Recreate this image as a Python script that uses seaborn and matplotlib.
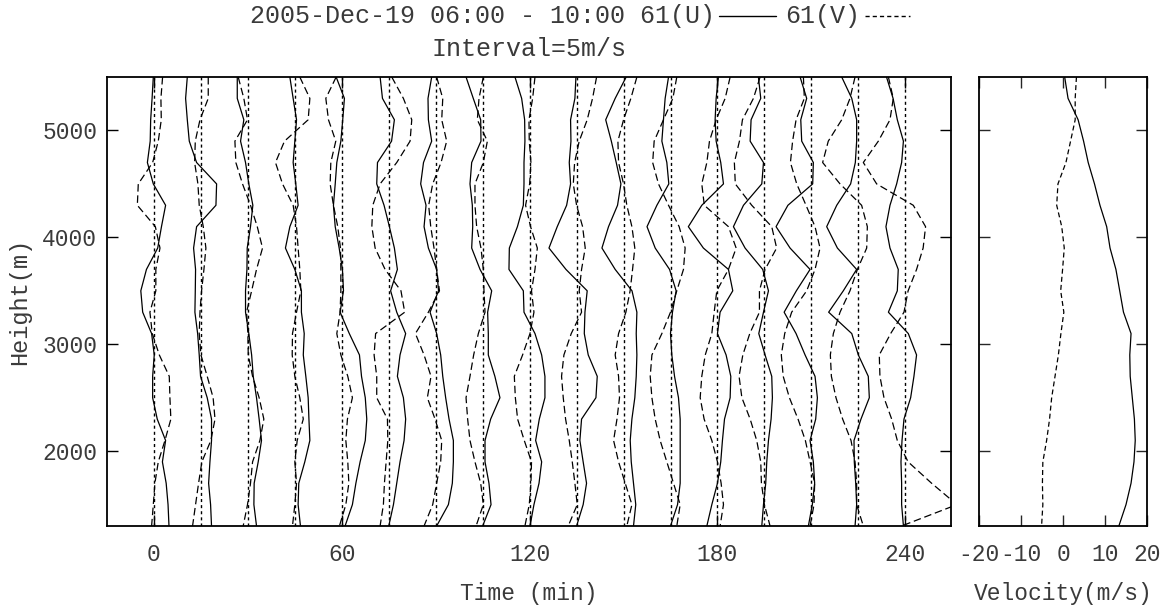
import numpy as np
import pandas as pd
import matplotlib
matplotlib.use("Agg")
import matplotlib.pyplot as plt
import seaborn as sns
from matplotlib.lines import Line2D

# Height levels of the wind profiles (m), top to bottom
heights = [5500, 5300, 5100, 4900, 4700, 4500, 4300, 4100, 3900, 3700, 3500,
           3300, 3100, 2900, 2700, 2500, 2300, 2100, 1900, 1700, 1500, 1300]

# Profile start times (minutes after 06:00)
times = [0, 15, 30, 45, 60, 75, 90, 105, 120, 135, 150, 165, 180, 195, 210, 225, 240]

# Perturbation of U (m/s) for each profile
u_000 = [-0.07, -0.2, -0.35, -0.4, -0.7, -0.07, 1.24, 0.8, 0.4, -0.8, -1.4, -1.2, -0.25, 0.03, -0.14, -0.14, 0.35, 1.24, 0.9, 1.3, 1.5, 1.6]
u_015 = [-1.45, -1.63, -1.45, -1.24, -0.46, 1.67, 1.6, -0.46, -0.78, -0.57, -0.6, -0.64, -0.35, -0.18, -0.04, 0.67, 1.13, 1.13, 0.96, 0.82, 1.03, 1.13]
u_030 = [-1.13, -1.13, -0.43, -0.78, -0.25, 0.1, 0.53, 0.28, -0.07, -0.1, -0.25, -0.25, 0.1, 0.4, 0.57, 0.92, 1.2, 1.45, 1.1, 0.67, 0.64, 0.92]
u_045 = [-0.53, -0.18, 0.18, 0.0, -0.18, 0.1, 0.35, -0.53, -1.0, 0.0, 0.7, 0.7, 1.0, 0.9, 1.17, 1.42, 1.5, 1.6, 1.06, 0.42, 0.35, 0.6]
u_060 = [-0.6, 0.28, 0.1, -0.1, -0.53, -0.7, -0.89, -0.7, -0.28, 0.07, 0.18, -0.18, 0.8, 1.88, 2.1, 2.5, 2.66, 2.5, 1.95, 1.5, 1.13, 0.35]
u_075 = [-0.92, -0.67, 0.6, 0.3, -1.2, -1.28, -0.5, 0.07, 0.6, 0.92, 0.2, 0.85, 1.8, 1.2, 0.92, 1.56, 1.8, 1.63, 1.2, 0.85, 0.5, 0.0]
u_090 = [-0.43, -0.82, -0.78, -0.43, -1.3, -1.6, -1.03, -1.24, -0.78, 0.1, 0.3, -0.6, 0.1, 0.53, 0.75, 1.06, 1.42, 1.88, 1.88, 1.77, 1.35, 0.1]
u_105 = [-1.77, -1.0, -0.21, -0.18, -1.17, -1.35, -1.1, -1.06, -1.17, -0.28, 0.96, 0.53, 0.6, 0.6, 1.3, 1.84, 0.85, 0.25, 0.25, 0.67, 0.89, 0.0]
u_120 = [-1.56, -0.85, -0.53, -0.5, -0.6, -0.6, -0.67, -1.3, -2.16, -2.2, -0.67, -0.6, 0.57, 1.28, 1.63, 1.63, 1.03, 0.64, 1.28, 1.0, 0.46, 0.04]
u_135 = [-0.07, -0.18, -0.64, -0.6, -0.78, -0.64, -1.06, -2.06, -2.94, -1.13, 1.13, 0.89, 0.82, 1.24, 2.2, 2.06, 0.53, 0.35, 0.7, 1.06, 0.7, 0.0]
u_150 = [0.28, -0.89, -1.9, -1.3, -0.78, -0.28, -0.64, -1.6, -2.3, -0.89, 0.9, 1.42, 1.35, 1.42, 1.35, 1.2, 0.89, 0.71, 0.82, 1.06, 1.3, 1.06]
u_165 = [-0.21, -0.57, -0.75, -0.92, -0.39, -0.18, -1.45, -2.5, -1.63, -0.1, 0.6, 0.21, 0.0, 0.14, 0.43, 0.85, 1.03, 1.03, 1.03, 1.03, 0.75, 0.0]
u_180 = [0.1, -0.14, -0.25, -0.14, 0.35, 0.64, -1.67, -3.1, -1.5, 1.17, 1.63, 0.28, 0.0, 0.92, 1.42, 1.35, 0.75, 0.53, 0.35, 0.0, -0.6, -1.13]
u_195 = [-0.64, -0.39, -1.42, -1.52, -0.1, -0.28, -2.23, -3.3, -2.06, -0.18, 0.43, -0.1, -0.6, 0.07, 0.78, 0.85, 0.71, 0.43, 0.25, 0.14, -0.1, -0.28]
u_210 = [-1.2, -0.5, -1.13, -1.03, 0.21, 0.14, -2.5, -3.76, -2.27, -0.14, -1.6, -2.9, -1.63, -0.67, 0.39, 0.64, 0.46, -0.14, 0.21, 0.35, 0.1, -0.32]
u_225 = [-1.77, -0.7, -0.18, -0.18, -0.32, -0.82, -2.3, -3.37, -2.23, -0.18, -1.6, -3.16, -0.7, 0.0, 1.06, 1.17, 0.28, -0.46, -0.43, -0.28, -0.18, -0.35]
u_240 = [-2.0, -1.3, -0.85, -0.2, -0.39, -0.92, -1.63, -2.06, -1.63, -0.75, -0.85, -1.8, 0.32, 1.2, 0.92, 0.57, -0.14, -0.35, -0.46, -0.39, -0.39, -0.2]

# Perturbation of V (m/s) for each profile
v_000 = [0.92, 0.74, 0.78, 0.46, -0.14, -1.67, -1.77, 0.15, 0.64, 0.2, 0.2, -0.43, -0.18, 0.57, 1.63, 1.7, 1.8, 1.17, 0.46, 0.1, -0.07, -0.25]
v_015 = [0.78, 0.78, -0.1, -0.6, -0.67, -0.32, -0.18, 0.25, 0.53, 0.32, 0.07, -0.1, -0.18, 0.0, 0.67, 1.3, 1.5, 1.06, 0.1, -0.25, -0.57, -0.89]
v_030 = [-1.03, -0.43, -0.04, -1.38, -1.28, -0.57, 0.28, 1.0, 1.56, 0.92, 0.4, -0.14, 0.0, 0.04, 0.5, 1.2, 1.7, 1.28, 0.5, 0.28, -0.04, -0.5]
v_045 = [0.53, 1.6, 1.42, -1.1, -2.06, -1.31, -0.18, 0.18, 0.35, 0.53, 0.64, 0.18, -0.25, -0.28, 0.0, 0.53, 0.9, 0.25, 0.0, 0.18, 0.0, -0.25]
v_060 = [-0.6, -1.7, -1.42, -0.64, -1.17, -1.24, -0.89, -0.43, -0.14, -0.1, -0.1, -0.18, -0.53, -0.1, 0.64, 1.13, 0.6, 0.43, 0.64, 0.75, 0.43, -0.25]
v_075 = [0.32, 1.56, 2.45, 2.27, 0.85, -0.92, -1.7, -1.8, -1.45, -0.39, 1.3, 1.7, -1.4, -1.56, -1.28, -1.28, -0.14, -0.1, -0.28, -0.46, -0.57, -0.92]
v_090 = [0.1, 0.75, 0.64, 1.17, 0.57, -0.32, -0.75, -0.53, -0.18, 0.1, 0.4, -0.78, -2.16, -1.24, -0.5, -0.89, -0.07, 0.64, 0.53, 0.1, -0.32, -1.24]
v_105 = [0.07, -0.39, -0.57, 0.5, 0.07, -0.82, -0.82, -0.64, -0.18, 0.07, 0.14, 0.25, -0.46, -0.96, -1.35, -1.77, -1.6, -1.35, -0.82, -0.21, 0.07, -0.7]
v_120 = [0.57, 0.32, -0.07, -0.04, 0.14, 0.0, -0.43, 0.1, 0.82, 0.57, 0.2, 0.46, 0.04, -0.75, -1.63, -1.52, -1.28, -0.57, 0.2, 0.14, -0.04, -0.5]
v_135 = [2.13, 1.7, 1.13, 0.28, -0.21, -0.35, 0.0, 0.64, 0.92, 0.53, 0.28, 0.53, -0.57, -1.35, -1.6, -1.42, -1.17, -0.78, -0.46, -0.18, 0.07, -0.89]
v_150 = [1.42, 0.78, 0.0, -0.6, -0.53, 0.0, 0.35, 0.89, 1.2, 0.96, 0.7, 0.25, -0.53, -0.89, -0.53, -0.43, -0.7, -1.06, -0.53, 0.18, 0.89, 0.35]
v_165 = [0.67, 0.25, -0.75, -1.74, -1.9, -1.28, -0.21, 0.92, 1.56, 1.38, 0.67, 0.0, -0.92, -1.98, -2.16, -1.98, -1.63, -1.1, -0.39, 0.32, 1.03, 0.67]
v_180 = [1.35, 0.82, -0.14, -0.85, -1.13, -1.67, -1.4, 1.17, 1.99, 1.17, -0.07, -0.35, -0.6, -1.3, -1.67, -1.84, -1.42, -0.6, 0.0, 0.39, 0.64, 0.28]
v_195 = [-0.46, -1.17, -2.34, -2.66, -3.2, -3.1, -1.35, 0.78, 1.3, 0.07, -0.53, -0.53, -1.56, -2.3, -2.7, -2.4, -1.52, -0.82, -0.39, -0.32, 0.0, 0.6]
v_210 = [-0.85, -0.75, -1.63, -2.0, -2.23, -1.56, -0.57, 0.39, 0.92, 0.39, -0.5, -2.1, -2.84, -3.2, -3.0, -2.34, -1.42, -0.64, -0.14, 0.35, 0.28, -0.14]
v_225 = [-0.35, -0.89, -1.77, -3.2, -3.8, -1.95, 0.35, 0.96, 0.89, -0.1, -0.89, -1.95, -2.66, -2.98, -2.87, -2.38, -1.67, -0.78, -0.35, -0.18, -0.18, 0.53]
v_240 = [-1.8, -1.28, -1.63, -2.87, -4.47, -3.05, 0.85, 2.16, 1.9, 1.2, 0.3, -0.14, -1.56, -2.77, -2.7, -2.27, -1.45, -0.85, 0.3, 2.8, 5.5, -0.4]

# Mean wind over the period (m/s)
u_mean = [0.4, 1.2, 3.6, 4.9, 6.0, 7.5, 8.8, 10.4, 11.2, 12.6, 13.5, 14.4, 16.2, 15.9, 16.0, 16.5, 17.0, 17.2, 16.9, 16.2, 15.0, 13.3]
v_mean = [3.2, 2.9, 2.9, 1.8, 0.7, -1.2, -1.5, -0.3, 0.3, -0.1, -0.55, 0.2, -0.5, -1.1, -1.9, -2.7, -3.2, -3.9, -4.8, -4.9, -4.8, -5.1]

u_profiles = [u_000, u_015, u_030, u_045, u_060, u_075, u_090, u_105, u_120,
              u_135, u_150, u_165, u_180, u_195, u_210, u_225, u_240]
v_profiles = [v_000, v_015, v_030, v_045, v_060, v_075, v_090, v_105, v_120,
              v_135, v_150, v_165, v_180, v_195, v_210, v_225, v_240]

interval_ms = 5.0          # one profile spacing corresponds to 5 m/s
spacing_min = 15.0
min_per_ms = spacing_min / interval_ms

sns.set_theme(style="ticks")
plt.rcParams["font.family"] = ["Liberation Mono", "DejaVu Sans Mono"]
plt.rcParams["axes.unicode_minus"] = False
plt.rcParams["axes.linewidth"] = 1.3
plt.rcParams["axes.edgecolor"] = "black"

W, H = 1165, 611
fig = plt.figure(figsize=(W / 100, H / 100), dpi=100)
ax = fig.add_axes([107 / W, 85 / H, 844 / W, 449 / H])
ax2 = fig.add_axes([979 / W, 85 / H, 168 / W, 449 / H])

txt_color = "#3a3a3a"
fs = 16.5
line_kw = dict(color="black", lw=0.9, estimator=None, sort=False, legend=False)

rows = []
for t, up, vp in zip(times, u_profiles, v_profiles):
    for h, u, v in zip(heights, up, vp):
        rows.append({"t": t, "height": h,
                     "xu": t + min_per_ms * u, "xv": t + min_per_ms * v})
df = pd.DataFrame(rows)

for t in times:
    ax.axvline(t, color="black", lw=1.0, ls=(0, (2.2, 2.2)), zorder=1)
    sub = df[df["t"] == t]
    sns.lineplot(data=sub, x="xu", y="height", ax=ax, **line_kw)
    sns.lineplot(data=sub, x="xv", y="height", ax=ax,
                 linestyle=(0, (6, 3)), **line_kw)

ax.set_xlim(-15.0, 254.6)
ax.set_ylim(1300, 5500)
ax.set_xticks([0, 60, 120, 180, 240])
ax.set_yticks([2000, 3000, 4000, 5000])
ax.tick_params(direction="in", top=True, right=True, length=8, width=1.0,
               labelsize=fs, colors="black", labelcolor=txt_color)
ax.tick_params(axis="x", pad=12)
ax.tick_params(axis="y", pad=7)
ax.set_xlabel("Time (min)", fontsize=fs, color=txt_color, labelpad=12)
ax.set_ylabel("Height(m)", fontsize=17, color=txt_color, labelpad=8)

mean_df = pd.DataFrame({"height": heights, "U": u_mean, "V": v_mean})
sns.lineplot(data=mean_df, x="U", y="height", ax=ax2, **line_kw)
sns.lineplot(data=mean_df, x="V", y="height", ax=ax2,
             linestyle=(0, (4, 2.5)), **line_kw)
ax2.set_xlim(-20, 20)
ax2.set_ylim(1300, 5500)
ax2.set_xticks([-20, -10, 0, 10, 20])
ax2.set_yticks([2000, 3000, 4000, 5000])
ax2.set_yticklabels([])
ax2.set_ylabel("")
ax2.tick_params(direction="in", top=True, right=True, length=8, width=1.0,
                labelsize=fs, labelcolor=txt_color)
ax2.tick_params(axis="x", pad=12)
ax2.set_xlabel("Velocity(m/s)", fontsize=fs, color=txt_color, labelpad=12)

# Two-line heading with line-style keys
fs_title = 18
y_mid = 1 - 16 / H
t1 = fig.text(250 / W, y_mid, "2005-Dec-19 06:00 - 10:00 61(U)",
              fontsize=fs_title, color=txt_color, ha="left", va="center")
fig.canvas.draw()
x_end = t1.get_window_extent().x1 / W
fig.add_artist(Line2D([x_end + 4 / W, x_end + 61 / W], [y_mid, y_mid],
                      color="black", lw=1.0, transform=fig.transFigure))
t2 = fig.text(x_end + 70 / W, y_mid, "61(V)", fontsize=fs_title,
              color=txt_color, ha="left", va="center")
fig.canvas.draw()
x2 = t2.get_window_extent().x1 / W
fig.add_artist(Line2D([x2 + 5 / W, x2 + 50 / W], [y_mid, y_mid],
                      color="black", lw=1.0, ls=(0, (3, 2.2)),
                      transform=fig.transFigure))
fig.text(529 / W, 1 - 49 / H, "Interval=5m/s", fontsize=fs_title,
         color=txt_color, ha="center", va="center")

fig.savefig("out.png", dpi=100)
